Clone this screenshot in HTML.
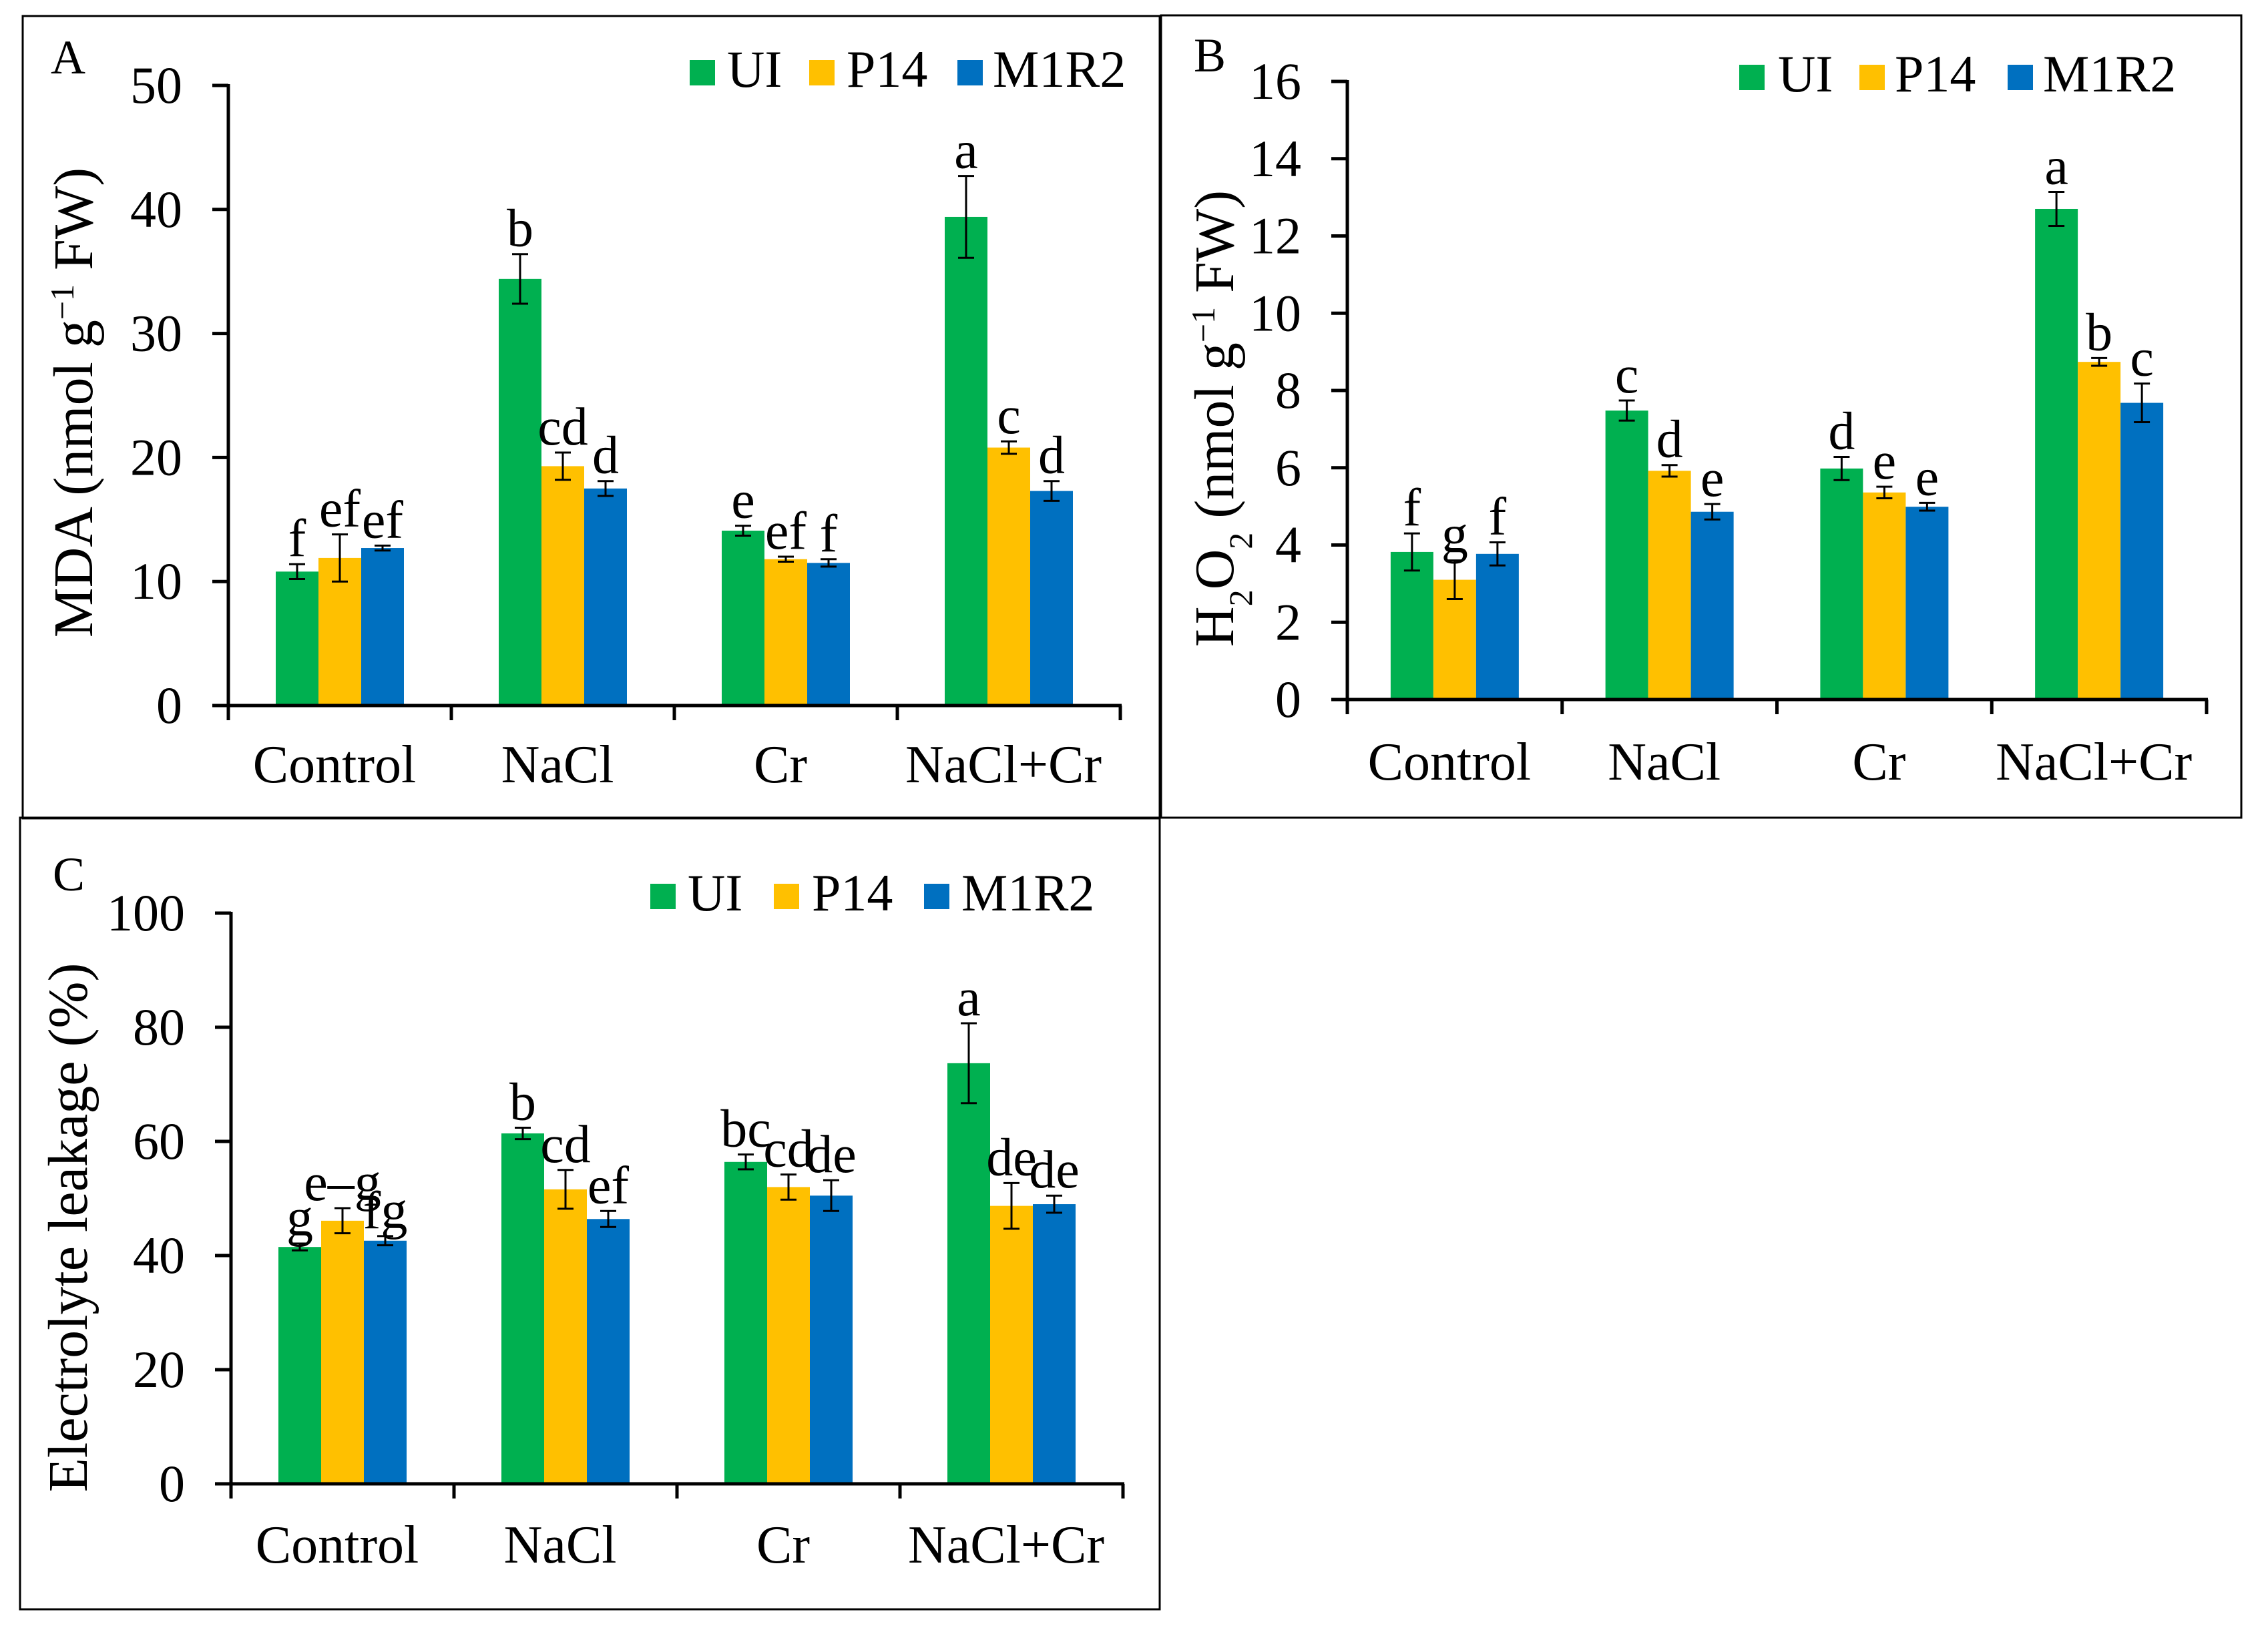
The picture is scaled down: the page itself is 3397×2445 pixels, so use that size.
<!DOCTYPE html>
<html><head><meta charset="utf-8"><style>
html,body{margin:0;padding:0;background:#fff}
svg, svg text{font-family:"Liberation Serif","Times New Roman",serif}
</style></head><body>
<svg id="fig" width="3397" height="2440" viewBox="0 0 3397 2440" xmlns="http://www.w3.org/2000/svg" font-family="'Liberation Serif', serif">
<rect x="0" y="0" width="3397" height="2440" fill="#fff"/>
<rect x="34" y="24" width="1703" height="1202" fill="none" stroke="#000" stroke-width="3"/>
<rect x="1739" y="23" width="1618" height="1202" fill="none" stroke="#000" stroke-width="3"/>
<rect x="30" y="1225" width="1707" height="1186" fill="none" stroke="#000" stroke-width="3"/>
</svg>
<script>
const categories = ["Control", "NaCl", "Cr", "NaCl+Cr"];
const seriesNames = ["UI", "P14", "M1R2"];
const colors = ["#00B050", "#FFC000", "#0070C0"];

const mdaUI = [10.8, 34.4, 14.1, 39.4];
const mdaP14 = [11.9, 19.3, 11.8, 20.8];
const mdaM1R2 = [12.7, 17.5, 11.5, 17.3];
const mdaErrUI = [0.6, 2.0, 0.4, 3.3];
const mdaErrP14 = [1.9, 1.1, 0.2, 0.5];
const mdaErrM1R2 = [0.2, 0.6, 0.3, 0.8];
const mdaLetters = [["f","b","e","a"],["ef","cd","ef","c"],["ef","d","f","d"]];
const mdaTicks = [0, 10, 20, 30, 40, 50];

const h2o2UI = [3.82, 7.48, 5.98, 12.7];
const h2o2P14 = [3.1, 5.92, 5.36, 8.74];
const h2o2M1R2 = [3.77, 4.86, 4.99, 7.68];
const h2o2ErrUI = [0.48, 0.26, 0.3, 0.44];
const h2o2ErrP14 = [0.5, 0.15, 0.15, 0.1];
const h2o2ErrM1R2 = [0.3, 0.2, 0.1, 0.5];
const h2o2Letters = [["f","c","d","a"],["g","d","e","b"],["f","e","e","c"]];
const h2o2Ticks = [0, 2, 4, 6, 8, 10, 12, 14, 16];

const elUI = [41.5, 61.4, 56.4, 73.7];
const elP14 = [46.1, 51.6, 52.0, 48.7];
const elM1R2 = [42.6, 46.4, 50.5, 49.0];
const elErrUI = [0.6, 1.0, 1.3, 7.0];
const elErrP14 = [2.2, 3.4, 2.2, 4.0];
const elErrM1R2 = [0.8, 1.4, 2.7, 1.5];
const elLetters = [["g","b","bc","a"],["e–g","cd","cd","de"],["fg","ef","de","de"]];
const elTicks = [0, 20, 40, 60, 80, 100];

const NS = "http://www.w3.org/2000/svg";
const FONT = "'Liberation Serif', serif";
const svg = document.getElementById("fig");
function mk(tag, attrs, parent) {
  const e = document.createElementNS(NS, tag);
  for (const k in attrs) e.setAttribute(k, attrs[k]);
  if (tag === "text") e.setAttribute("font-family", FONT);
  (parent || svg).appendChild(e);
  return e;
}

function panel(p) {
  const g = mk("g", {});
  
  
  const ymax = p.ticks[p.ticks.length - 1];
  const yS = v => p.y0 - (v / ymax) * (p.y0 - p.yTop);
  const catW = (p.xEnd - p.x0) / categories.length;
  const barW = 64;
  p.ticks.forEach(t => {
    const y = yS(t);
    const tl = mk("line", {x1: p.x0 - 24, x2: p.x0, y1: y, y2: y, stroke: "#000", "stroke-width": 5}, g);
    
    
    const tx = mk("text", {x: p.tickRight, y: y + 26, "text-anchor": "end", "font-size": 78}, g);
    tx.textContent = t;
    
    
  });
  const sets = p.vals;
  categories.forEach((c, i) => {
    const cx = p.x0 + catW * (i + 0.5);
    sets.forEach((vals, s) => {
      const x = cx - 1.5 * barW + s * barW;
      const v = vals[i];
      const r = mk("rect", {x: x, y: yS(v), width: barW, height: p.y0 - yS(v), fill: colors[s]}, g);
      
      
      const e = p.errs[s][i];
      const bx = x + barW / 2;
      const eg = mk("g", {stroke: "#000", "stroke-width": 3}, g);
      
      
      mk("line", {x1: bx, x2: bx, y1: yS(v + e), y2: yS(v - e)}, eg);
      mk("line", {x1: bx - 12, x2: bx + 12, y1: yS(v + e), y2: yS(v + e)}, eg);
      mk("line", {x1: bx - 12, x2: bx + 12, y1: yS(v - e), y2: yS(v - e)}, eg);
      const lt = mk("text", {x: bx, y: yS(v + e) - 12, "text-anchor": "middle", "font-size": 80}, g);
      lt.textContent = p.letters[s][i];
      
      
    });
    const cl = mk("text", {x: cx - 8, y: p.catY, "text-anchor": "middle", "font-size": 80}, g);
    cl.textContent = c;
    
    
  });
  const ya = mk("line", {x1: p.x0, x2: p.x0, y1: p.yTop - 2, y2: p.y0 + 2, stroke: "#000", "stroke-width": 5}, g);
  
  
  const xa = mk("line", {x1: p.x0 - 24, x2: p.xEnd + 2, y1: p.y0, y2: p.y0, stroke: "#000", "stroke-width": 5}, g);
  
  
  for (let i = 0; i <= categories.length; i++) {
    const x = p.x0 + catW * i;
    const ct = mk("line", {x1: x, x2: x, y1: p.y0, y2: p.y0 + 22, stroke: "#000", "stroke-width": 5}, g);
    
    
  }
  seriesNames.forEach((n, s) => {
    const sq = mk("rect", {x: p.leg[s][0], y: p.legY, width: 38, height: 38, fill: colors[s]}, g);
    
    
    const lt = mk("text", {x: p.leg[s][1], y: p.legY + 40, "font-size": 78}, g);
    lt.textContent = n;
    
    
  });
  const pl = mk("text", {x: p.letterPos[0], y: p.letterPos[1], "font-size": 72}, g);
  pl.textContent = p.letter;
  
  
  const yt = mk("text", {x: 0, y: 0, "text-anchor": "middle", "font-size": 84,
    transform: "translate(" + p.titlePos[0] + "," + p.titlePos[1] + ") rotate(-90)"}, g);
  yt.innerHTML = p.title;
  
  
}

panel({id: "mda", x0: 342, xEnd: 1678, y0: 1057, yTop: 128, tickRight: 273, catY: 1172,
  ticks: mdaTicks, vals: [mdaUI, mdaP14, mdaM1R2], errs: [mdaErrUI, mdaErrP14, mdaErrM1R2], letters: mdaLetters,
  leg: [[1033, 1089], [1212, 1268], [1434, 1487]], legY: 90, letter: "A", letterPos: [76, 110],
  titlePos: [138, 603], title: 'MDA (nmol g<tspan baseline-shift="super" font-size="50">−1</tspan> FW)'});

panel({id: "h2o2", x0: 2018, xEnd: 3305, y0: 1048, yTop: 122, tickRight: 1949, catY: 1168,
  ticks: h2o2Ticks, vals: [h2o2UI, h2o2P14, h2o2M1R2], errs: [h2o2ErrUI, h2o2ErrP14, h2o2ErrM1R2], letters: h2o2Letters,
  leg: [[2605, 2663], [2785, 2838], [3007, 3060]], legY: 97, letter: "B", letterPos: [1788, 107],
  titlePos: [1847, 627], title: 'H<tspan baseline-shift="sub" font-size="50">2</tspan>O<tspan baseline-shift="sub" font-size="50">2</tspan> (nmol g<tspan baseline-shift="super" font-size="50">−1</tspan> FW)'});

panel({id: "el", x0: 346, xEnd: 1682, y0: 2223, yTop: 1368, tickRight: 277, catY: 2341,
  ticks: elTicks, vals: [elUI, elP14, elM1R2], errs: [elErrUI, elErrP14, elErrM1R2], letters: elLetters,
  leg: [[974, 1030], [1159, 1216], [1384, 1440]], legY: 1324, letter: "C", letterPos: [79, 1334],
  titlePos: [130, 1839], title: 'Electrolyte leakage (%)'});
</script>
</body></html>
